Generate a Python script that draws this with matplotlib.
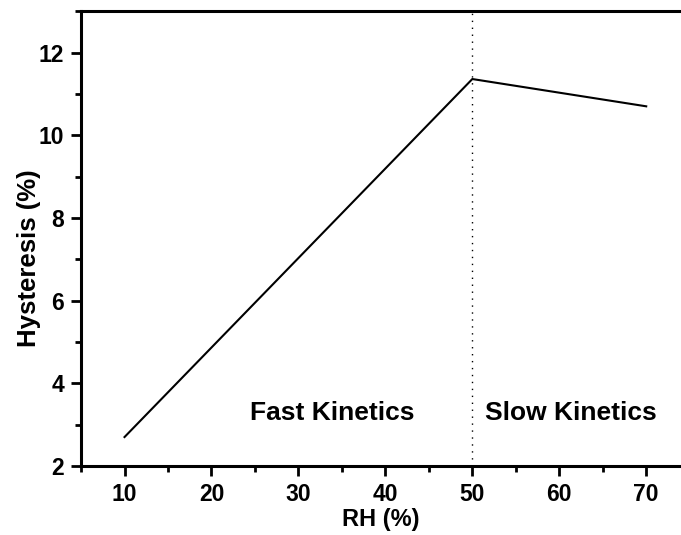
import matplotlib
matplotlib.use("Agg")
import matplotlib.pyplot as plt
from matplotlib.ticker import MultipleLocator

rh = [10, 50, 70]
hysteresis = [2.70, 11.36, 10.70]
boundary_rh = 50
region_labels = ["Fast Kinetics", "Slow Kinetics"]
region_label_x = [33.9, 61.3]
region_label_y = 3.28

plt.rcParams['font.family'] = ['Liberation Sans', 'DejaVu Sans']
plt.rcParams['font.weight'] = 'bold'

fig = plt.figure(figsize=(6.81, 5.35), dpi=100)
ax = fig.add_axes([0.119, 0.129, 0.881, 0.850])

ax.plot(rh, hysteresis, color='black', linewidth=1.5)
ax.axvline(boundary_rh, color='black', linestyle=(0, (1, 4)), linewidth=1.0)

for lbl, x in zip(region_labels, region_label_x):
    ax.text(x, region_label_y, lbl, ha='center', va='center', fontsize=19, fontweight='bold')

ax.set_xlim(5, 74)
ax.set_ylim(2, 13)
ax.xaxis.set_major_locator(MultipleLocator(10))
ax.xaxis.set_minor_locator(MultipleLocator(5))
ax.yaxis.set_major_locator(MultipleLocator(2))
ax.yaxis.set_minor_locator(MultipleLocator(1))

ax.set_xlabel('RH (%)', fontsize=17, fontweight='bold', labelpad=2)
ax.set_ylabel('Hysteresis (%)', fontsize=18.5, fontweight='bold')
ax.yaxis.set_label_coords(-0.067, 0.457)

for s in ['left', 'bottom', 'top']:
    ax.spines[s].set_linewidth(2.2)
ax.spines['right'].set_visible(False)
ax.tick_params(which='major', direction='out', length=7, width=2, labelsize=16.5,
               pad=5, top=False, right=False)
ax.tick_params(which='minor', direction='out', length=4, width=2, top=False, right=False)
for t in ax.get_xticklabels() + ax.get_yticklabels():
    t.set_fontweight('bold')

fig.savefig('out.png', dpi=100)
